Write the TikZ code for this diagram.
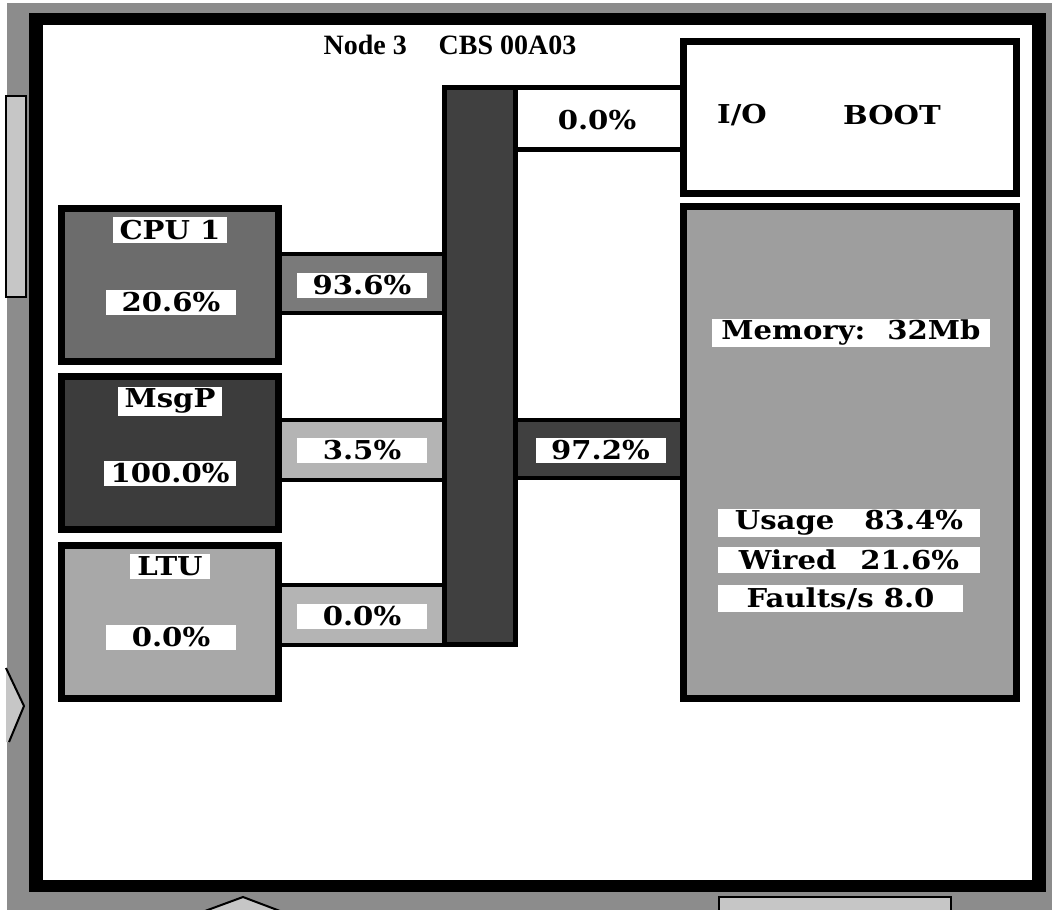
\documentclass[tikz,border=0pt]{standalone}
\usepackage{fontspec}
\setmainfont{DejaVu Serif}
\newfontfamily\titlefont{Liberation Serif}
\newfontfamily\tagfamily[FakeStretch=1.12]{DejaVu Serif}
\usepackage{xcolor}
\usepackage{tikz}
\definecolor{desk}{HTML}{8C8C8C}
\definecolor{light}{HTML}{C6C6C6}
\definecolor{cpugray}{HTML}{6C6C6C}
\definecolor{msggray}{HTML}{3C3C3C}
\definecolor{ltugray}{HTML}{A8A8A8}
\definecolor{memgray}{HTML}{9E9E9E}
\definecolor{busgray}{HTML}{404040}
\definecolor{cpulink}{HTML}{7A7A7A}
\definecolor{softlink}{HTML}{B4B4B4}
\newcommand\tagfont{\tagfamily\bfseries\fontsize{26}{26}\selectfont}
\pgfdeclarelayer{back}
\pgfdeclarelayer{links}
\pgfsetlayers{back,links,main}

\begin{document}
\begin{tikzpicture}[x=1pt,y=-1pt,
                    unit/.style={draw,line width=7pt,minimum width=217pt,minimum height=153pt,inner sep=0pt},
                    tag/.style={fill=white,inner xsep=7pt,inner ysep=1pt,minimum height=25pt,font=\tagfont},
                    pct/.style={tag,minimum width=130pt},
                    memtag/.style={tag,minimum height=28pt},
                    band/.style={draw,line width=4.5pt}]
\useasboundingbox (0,0) rectangle (1052,910);
\begin{pgfonlayer}{back}
\fill[white] (0,0) rectangle (1052,910);
\fill[desk] (7,3) rectangle (1052,910);
\draw[fill=light,line width=2pt] (6,96) rectangle (26,297);
\fill[light] (6,668) -- (24,706) -- (9,742) -- (6,742) -- cycle;
\draw[line width=2pt] (6,668) -- (24,706) -- (9,742);
\draw[fill=light,line width=2pt] (205,911) -- (243,897) -- (280,911);
\draw[fill=light,line width=2pt] (719,897) rectangle (951,912);
\fill[black] (29,13) rectangle (1046,892);
\fill[white] (43,25) rectangle (1032,880);
\end{pgfonlayer}

\node[unit,fill=cpugray] (cpu)  at (170,285) {};
\node[unit,fill=msggray] (msgp) at (170,453) {};
\node[unit,fill=ltugray] (ltu)  at (170,622) {};
\node[draw,line width=5pt,fill=busgray,minimum width=71pt,minimum height=557pt] (bus) at (480,366) {};
\node[draw,line width=7pt,fill=white,minimum width=333pt,minimum height=152pt] (io)  at (850,117.5) {};
\node[draw,line width=7pt,fill=memgray,minimum width=333pt,minimum height=492pt] (mem) at (850,452.5) {};

\begin{pgfonlayer}{links}
\draw[band,fill=cpulink]  (cpu.center |- 0,254)  rectangle (bus.center |- 0,313);
\draw[band,fill=softlink] (msgp.center |- 0,420) rectangle (bus.center |- 0,480);
\draw[band,fill=softlink] (ltu.center |- 0,585)  rectangle (bus.center |- 0,645);
\draw[band,fill=busgray]  (bus.center |- 0,420)  rectangle (mem.center |- 0,478);
\draw[band,fill=white]    (bus.center |- 0,87.5) rectangle (io.center |- 0,149.5);
\end{pgfonlayer}

\node[font=\titlefont\bfseries\fontsize{28}{28}\selectfont] (title) at (450,45) {Node 3\hspace{32pt}CBS 00A03};
\node[tag,minimum height=26pt] (cpuname)  at (170,230) {CPU 1};
\node[pct] (cpuload)  at (171,302)   {20.6\%};
\node[tag,minimum height=29pt] (msgpname) at (170,401) {MsgP};
\node[pct] (msgpload) at (170,473.5) {100.0\%};
\node[tag] (ltuname)  at (170,566)   {LTU};
\node[pct] (ltuload)  at (171,637.5) {0.0\%};
\node[pct] (cpubus)   at (362,285.5) {93.6\%};
\node[pct] (msgpbus)  at (362,450.5) {3.5\%};
\node[pct] (ltubus)   at (362,616)   {0.0\%};
\node[pct] (busmem)   at (600.5,450.5) {97.2\%};
\node[font=\tagfont] (busio)     at (597,120) {0.0\%};
\node[font=\tagfont] (iolabel)   at (742,115) {I/O};
\node[font=\tagfont] (bootlabel) at (892,115) {BOOT};
\node[memtag,minimum width=278pt] (memsize)  at (851,332.5) {Memory:\hspace{22pt}32Mb};
\node[memtag,minimum width=262pt] (memuse)   at (849,522.5) {Usage\hspace{30pt}83.4\%};
\node[memtag,minimum width=262pt,minimum height=26pt] (memwired) at (849,560) {Wired\hspace{24pt}21.6\%};
\node[memtag,minimum width=245pt,minimum height=27pt] (memfault) at (840.5,598.5) {Faults/s 8.0};
\end{tikzpicture}
\end{document}
